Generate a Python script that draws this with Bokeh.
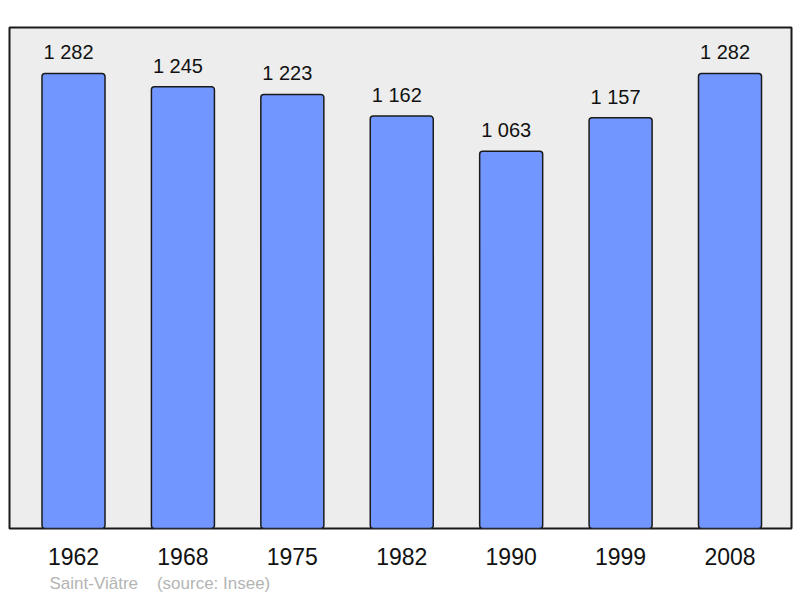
from bokeh.plotting import figure
from bokeh.models import Range1d, FixedTicker, Title, ColumnDataSource
from bokeh.embed import file_html
from bokeh.resources import INLINE
from bokeh.core.properties import value

years = ["1962", "1968", "1975", "1982", "1990", "1999", "2008"]
population = [1282, 1245, 1223, 1162, 1063, 1157, 1282]
labels = ["1 282", "1 245", "1 223", "1 162", "1 063", "1 157", "1 282"]

xs = list(range(len(years)))
src = ColumnDataSource(dict(x=xs, top=population, label=labels))

p = figure(width=800, height=598, output_backend="svg", toolbar_location=None,
           x_range=Range1d(-0.585, 6.562), y_range=Range1d(0, 1411.6),
           min_border_left=9, min_border_right=9, min_border_top=27, min_border_bottom=70)

p.background_fill_color = "#ededed"
p.border_fill_color = "white"
p.outline_line_color = "#1a1a1a"
p.outline_line_width = 2
p.xgrid.visible = False
p.ygrid.visible = False
p.yaxis.visible = False

p.vbar(x="x", top="top", bottom=0, width=0.576, source=src,
       fill_color="#7196ff", line_color="#1a1a1a", line_width=1.5, border_radius=3)

p.text(x="x", y="top", text="label", source=src, text_align="center", text_baseline="middle",
       x_offset=-5, y_offset=-21, text_font=value("Liberation Sans"), text_font_size="20px",
       text_color="#111111")

ax = p.xaxis[0]
ax.ticker = FixedTicker(ticks=xs)
ax.major_label_overrides = {i: y for i, y in zip(xs, years)}
ax.axis_line_color = None
ax.major_tick_line_color = None
ax.minor_tick_line_color = None
ax.major_label_text_font = "Liberation Sans"
ax.major_label_text_font_size = "23px"
ax.major_label_text_color = "#111111"
ax.major_label_standoff = 13

foot = Title(text="Saint-Vi\u00e2tre\u00a0\u00a0\u00a0\u00a0(source: Insee)", align="left", offset=40,
             text_font="Liberation Sans", text_font_size="17px", text_font_style="normal",
             text_color="#b4b4b4", standoff=9)
p.add_layout(foot, "below")

open("out.html", "w").write(file_html(p, INLINE))
